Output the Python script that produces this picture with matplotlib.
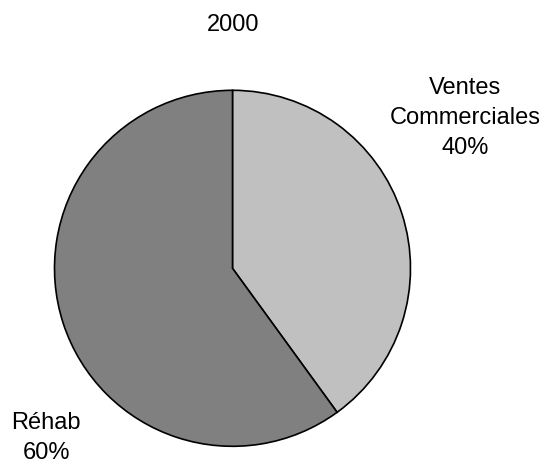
import matplotlib
matplotlib.use("Agg")
import matplotlib.pyplot as plt

plt.rcParams['font.family'] = ['Liberation Sans', 'DejaVu Sans']

# data
categories = ['Ventes\nCommerciales', 'Réhab']
shares = [40, 60]
colors = ['#c0c0c0', '#808080']
title = '2000'

W, H = 545, 463
fig = plt.figure(figsize=(W / 100, H / 100), dpi=100)
ax = fig.add_axes([0, 0, 1, 1])
ax.set_xlim(0, W)
ax.set_ylim(0, H)
ax.set_aspect('equal')
ax.axis('off')

labels = [f'{c}\n{v}%' for c, v in zip(categories, shares)]
wedges, texts = ax.pie(shares, labels=labels, colors=colors, startangle=90,
                       counterclock=False, center=(232.5, H - 268.3), radius=178,
                       wedgeprops=dict(edgecolor='black', linewidth=1.2),
                       textprops=dict(fontsize=17, ha='center', va='center',
                                      linespacing=1.5))
ax.set_xlim(0, W)
ax.set_ylim(0, H)

# label placement like the original chart
label_pos = [(465, H - 118), (46, H - 438)]
for t, p in zip(texts, label_pos):
    t.set_position(p)
    t.set_ha('center')
    t.set_va('center')
    t.set_multialignment('center')

ax.text(233, H - 25, title, fontsize=17, ha='center', va='center')

fig.savefig('out.png', dpi=100)
